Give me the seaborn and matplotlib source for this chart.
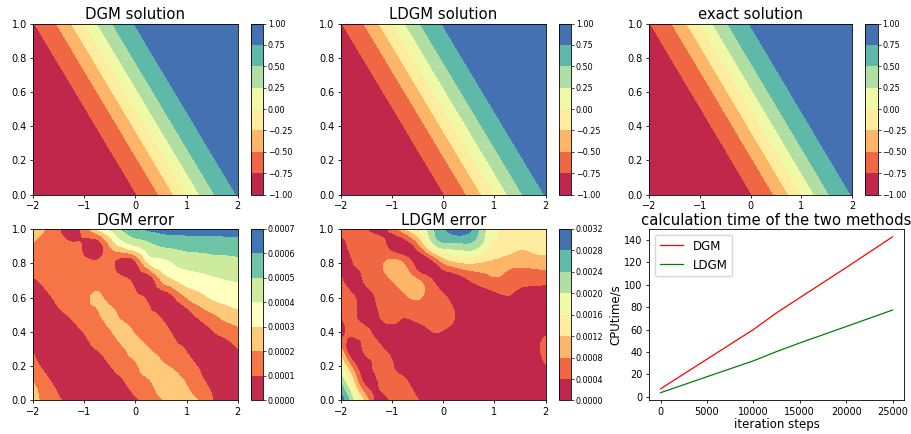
import numpy as np
import matplotlib
matplotlib.use("Agg")
import matplotlib.pyplot as plt
import matplotlib.tri as mtri
import seaborn as sns

# ---------------- data ----------------
# coarse grid on which the error fields were read off the picture
x_err = np.linspace(-2, 2, 17)
t_err = np.linspace(0, 1, 11)
# fine grid for the (analytic) solution
x_sol = np.linspace(-2, 2, 201)
t_sol = np.linspace(0, 1, 101)

sol_levels = np.linspace(-1, 1, 9)
dgm_err_levels = np.linspace(0, 0.0007, 8)
ldgm_err_levels = np.linspace(0, 0.0032, 9)

# DGM error, units of 1e-4, rows t = 0.0 ... 1.0, columns x = -2 ... 2
dgm_err_1e4 = [
    [2.4, 1.6, 1.1, 0.6, 0.3, 0.2, 0.3, 0.5, 0.85, 1.4, 1.9, 2.4, 2.3, 1.95, 1.05, 0.5, 0.3],
    [2.05, 1.3, 0.7, 0.35, 0.2, 0.2, 0.4, 0.85, 1.4, 1.8, 2.4, 2.4, 1.95, 1.25, 0.8, 0.4, 0.3],
    [1.35, 0.7, 0.3, 0.15, 0.15, 0.3, 0.95, 1.45, 1.85, 2.4, 2.2, 1.85, 1.4, 0.9, 0.5, 0.45, 0.5],
    [0.95, 0.4, 0.2, 0.2, 0.6, 1.05, 1.5, 1.9, 2.3, 2.05, 1.6, 1.25, 0.9, 0.35, 0.4, 0.6, 0.98],
    [0.7, 0.4, 0.3, 0.6, 1.05, 1.5, 1.9, 2.3, 1.9, 1.5, 1.25, 0.85, 0.35, 0.35, 0.9, 1.3, 1.7],
    [0.5, 0.55, 0.8, 1.15, 1.6, 1.85, 2.25, 1.75, 1.45, 1.2, 0.85, 0.3, 0.5, 1.3, 1.85, 2.4, 2.7],
    [0.6, 0.85, 1.2, 1.55, 1.8, 2.1, 1.7, 1.45, 1.2, 0.8, 0.3, 0.9, 2.0, 2.6, 3.1, 3.3, 3.45],
    [0.9, 1.2, 1.5, 1.6, 1.75, 1.7, 1.55, 1.3, 0.6, 0.3, 2.0, 2.9, 3.4, 3.6, 3.8, 3.95, 4.05],
    [1.5, 1.55, 1.5, 1.4, 1.3, 1.25, 1.3, 0.3, 0.7, 2.9, 3.6, 4.0, 4.3, 4.4, 4.55, 4.6, 4.7],
    [1.9, 1.6, 1.3, 1.15, 0.8, 0.4, 2.0, 3.2, 3.9, 4.6, 5.0, 5.15, 5.3, 5.35, 5.4, 5.45, 5.5],
    [2.3, 1.95, 1.05, 0.4, 1.4, 3.1, 4.1, 5.1, 5.7, 6.15, 6.3, 6.4, 6.4, 6.4, 6.4, 6.4, 6.4],
]

# LDGM error, units of 4e-4, rows t = 0.0 ... 1.0, columns x = -2 ... 2
ldgm_err_4e4 = [
    [7.6, 5.0, 2.5, 0.4, 1.2, 1.45, 1.05, 0.5, 0.3, 0.2, 0.2, 0.3, 0.5, 0.7, 0.6, 0.5, 0.6],
    [6.0, 3.25, 0.7, 1.05, 1.5, 1.2, 0.6, 0.3, 0.2, 0.2, 0.2, 0.2, 0.3, 0.4, 0.4, 0.5, 0.7],
    [4.0, 1.5, 0.45, 1.6, 1.15, 0.5, 0.3, 0.2, 0.2, 0.2, 0.2, 0.2, 0.2, 0.3, 0.4, 0.6, 0.95],
    [2.3, 0.3, 1.35, 1.25, 0.6, 0.4, 0.4, 0.4, 0.35, 0.3, 0.2, 0.2, 0.2, 0.3, 0.4, 0.7, 1.25],
    [0.5, 1.3, 1.2, 0.6, 0.55, 0.6, 0.7, 0.95, 0.95, 0.6, 0.3, 0.2, 0.2, 0.3, 0.4, 0.6, 0.85],
    [1.15, 1.35, 0.3, 0.97, 1.3, 1.1, 1.3, 1.3, 1.25, 0.95, 0.4, 0.3, 0.3, 0.3, 0.4, 0.4, 0.5],
    [1.5, 1.15, 0.3, 1.4, 1.55, 1.8, 2.1, 1.6, 1.2, 0.5, 0.4, 0.4, 0.6, 0.9, 0.7, 0.6, 0.6],
    [1.3, 0.3, 1.3, 1.6, 2.0, 2.4, 2.1, 1.2, 0.35, 0.35, 0.95, 1.4, 1.8, 1.6, 1.3, 1.25, 1.2],
    [0.4, 1.0, 1.4, 1.7, 2.35, 1.85, 0.4, 0.3, 1.9, 2.7, 3.0, 2.85, 2.7, 2.4, 2.25, 2.35, 2.45],
    [0.5, 1.3, 1.5, 1.6, 0.5, 0.35, 1.5, 4.0, 5.4, 5.5, 5.6, 4.8, 3.8, 3.5, 3.15, 3.3, 3.35],
    [1.3, 1.3, 1.0, 0.4, 1.4, 2.8, 4.0, 5.4, 6.8, 7.6, 7.3, 5.5, 4.2, 3.6, 3.5, 3.5, 3.5],
]

# calculation time
steps = [0, 5000, 10000, 12500, 15000, 20000, 25000]
dgm_time = [7, 33.5, 60, 75, 88.5, 115.5, 143]
ldgm_time = [3.5, 17.8, 32, 40.3, 48, 62.7, 77.5]

titles = ["DGM solution", "LDGM solution", "exact solution", "DGM error", "LDGM error"]

# ---------------- style ----------------
plt.rcParams.update({
    "font.family": ["DejaVu Sans"],
    "xtick.labelsize": 7, "ytick.labelsize": 7,
    "xtick.major.size": 2.5, "ytick.major.size": 2.5,
    "xtick.major.width": 0.6, "ytick.major.width": 0.6,
    "xtick.major.pad": 2, "ytick.major.pad": 2,
    "axes.linewidth": 0.6,
})
cmap = sns.color_palette("Spectral", as_cmap=True)

fig = plt.figure(figsize=(9.12, 4.34), dpi=100)

XS, TS = np.meshgrid(x_sol, t_sol)
exact = np.tanh(XS + 2 * TS - 1)
XE, TE = np.meshgrid(x_err, t_err)
dgm_err = np.array(dgm_err_1e4) * 1e-4
ldgm_err = np.array(ldgm_err_4e4) * 4e-4

top_b, top_h = 0.5518, 0.3940
bot_b, bot_h = 0.0772, 0.3952
cols = [(0.0365, 0.2241, 0.2749), (0.3736, 0.2248, 0.6126), (0.7116, 0.2229, 0.9488)]
cb_w = 0.0135
TITLE_FS = 10.7


def finish(ax, cs, levels, title, cbl, bottom, height):
    ax.set_title(title, fontsize=TITLE_FS, pad=3)
    ax.set_xlim(-2, 2)
    ax.set_ylim(0, 1)
    ax.set_xticks([-2, -1, 0, 1, 2])
    ax.set_yticks(np.linspace(0, 1, 6))
    cax = fig.add_axes([cbl, bottom, cb_w, height])
    cb = fig.colorbar(cs, cax=cax)
    cb.set_ticks(levels)
    cb.ax.tick_params(labelsize=5.8, length=2, width=0.5, pad=1.5)
    cb.outline.set_linewidth(0.6)


def solution_panel(col, title):
    left, width, cbl = cols[col]
    ax = fig.add_axes([left, top_b, width, top_h])
    cs = ax.contourf(XS, TS, exact, levels=sol_levels, cmap=cmap)
    finish(ax, cs, sol_levels, title, cbl, top_b, top_h)


def error_panel(col, Z, levels, title):
    left, width, cbl = cols[col]
    ax = fig.add_axes([left, bot_b, width, bot_h])
    tri = mtri.Triangulation(XE.ravel(), TE.ravel())
    interp = mtri.CubicTriInterpolator(tri, Z.ravel(), kind="min_E")
    tri_f, z_f = mtri.UniformTriRefiner(tri).refine_field(Z.ravel(), triinterpolator=interp, subdiv=3)
    z_f = np.clip(z_f, levels[0], levels[-1])
    cs = ax.tricontourf(tri_f, z_f, levels=levels, cmap=cmap)
    finish(ax, cs, levels, title, cbl, bot_b, bot_h)


solution_panel(0, titles[0])
solution_panel(1, titles[1])
solution_panel(2, titles[2])
error_panel(0, dgm_err, dgm_err_levels, titles[3])
error_panel(1, ldgm_err, ldgm_err_levels, titles[4])

ax = fig.add_axes([0.7116, bot_b, 0.2799, bot_h])
sns.lineplot(x=steps, y=dgm_time, ax=ax, color="red", linewidth=0.9, label="DGM")
sns.lineplot(x=steps, y=ldgm_time, ax=ax, color="green", linewidth=0.9, label="LDGM")
ax.set_title("calculation time of the two methods", fontsize=TITLE_FS, pad=3)
ax.set_xlabel("iteration steps", fontsize=8.5, labelpad=1)
ax.set_ylabel("CPUtime/s", fontsize=8.5, labelpad=2)
ax.set_xticks([0, 5000, 10000, 15000, 20000, 25000])
ax.set_yticks(np.arange(0, 141, 20))
ax.legend(loc="upper left", fontsize=8.5)

fig.savefig("out.png", dpi=100)
